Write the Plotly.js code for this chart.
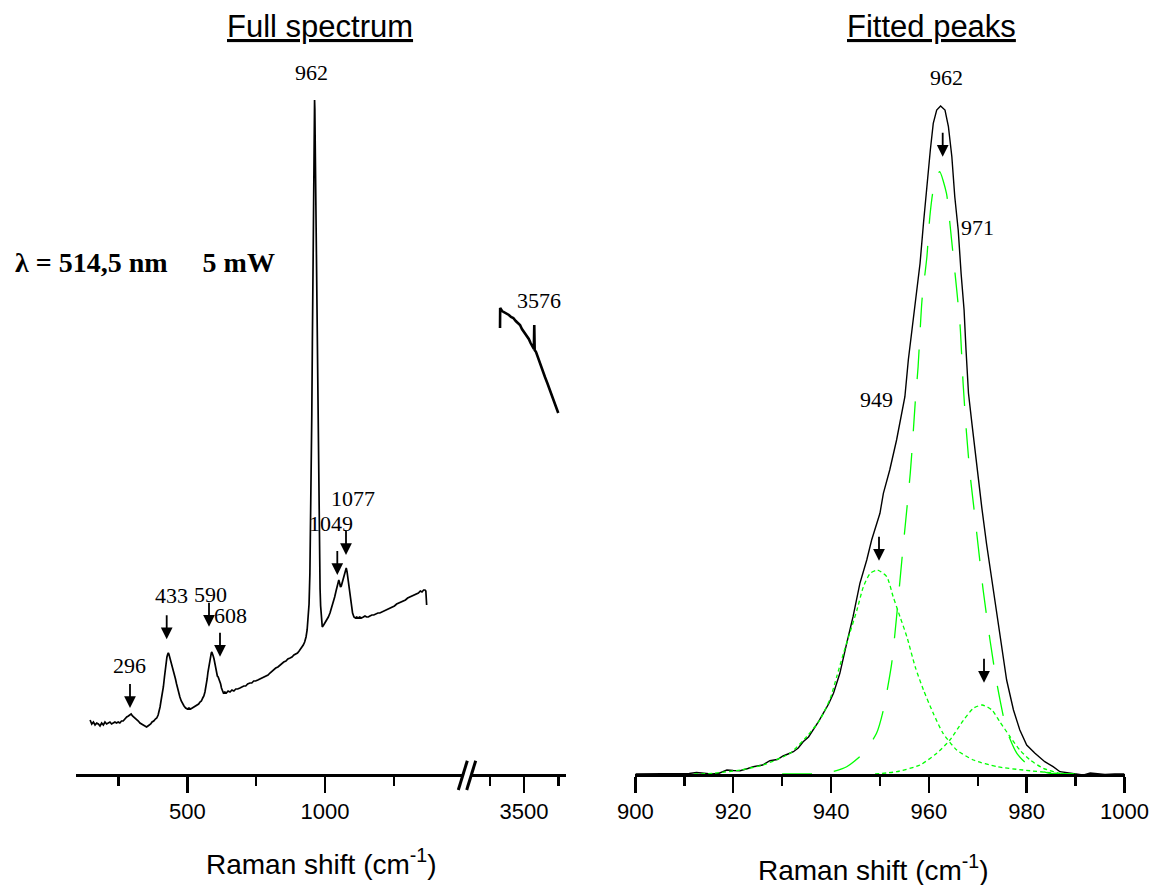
<!DOCTYPE html>
<html><head><meta charset="utf-8">
<script src="https://cdn.plot.ly/plotly-3.0.1.min.js"></script>
<style>html,body{margin:0;padding:0;background:#fff;}#chart{width:1157px;height:885px;}</style>
</head><body><div id="chart"></div>
<script>
// ---------- DATA ----------
// Full spectrum, low-wavenumber part: [Raman shift (cm-1), intensity (a.u.)]
const fullSpectrum = [[147,54],[153,50],[159,52],[165,49],[171,51],[177,50],[183,48],[189,51],[195,49],[201,52],[207,50],[213,51],[219,52],[225,50],[231,51],[237,52],[243,51],[249,52],[255,51],[261,53],[267,53],[273,55],[280,57],[286,58],[291,59],[296,60],[301,58],[306,57],[312,55],[317,54],[322,53],[328,51],[334,50],[340,49],[346,48],[352,47],[357,48],[362,49],[367,50],[372,52],[378,53],[384,55],[389,56],[394,59],[398,63],[401,67],[405,74],[409,80],[413,87],[417,97],[420,105],[423,112],[426,117],[429,120],[431,121],[433,120],[436,117],[439,114],[442,111],[445,108],[449,105],[453,100],[457,95],[461,90],[465,85],[469,81],[473,77],[478,73],[483,70],[488,68],[494,66],[500,65],[506,66],[512,65],[518,66],[524,67],[530,68],[536,69],[541,70],[546,72],[551,73],[556,76],[560,78],[564,82],[568,87],[572,95],[575,102],[578,108],[581,113],[584,117],[587,121],[589,122],[591,121],[594,118],[597,115],[600,110],[603,104],[606,100],[609,98],[612,97],[615,95],[618,92],[621,90],[624,86],[627,83],[631,81],[636,82],[642,81],[648,83],[655,82],[662,84],[669,83],[676,85],[683,85],[691,86],[698,87],[705,88],[712,88],[719,90],[727,91],[734,91],[741,93],[748,93],[756,94],[764,95],[771,96],[778,97],[786,98],[793,99],[800,101],[807,103],[814,104],[821,106],[829,107],[836,109],[843,111],[850,112],[858,113],[865,115],[873,116],[880,117],[887,119],[894,120],[900,121],[906,123],[912,125],[917,127],[921,129],[926,132],[931,137],[935,144],[939,155],[942,170],[945,200],[948,250],[950,300],[952,360],[954,430],[956,510],[958,580],[960,640],[961,664],[962,674],[963,665],[964,640],[966,585],[968,520],[970,455],[972,395],[974,340],[976,290],[978,245],[980,210],[982,185],[984,168],[986,157],[988,150],[990,147],[995,149],[1000,151],[1006,154],[1012,157],[1018,161],[1024,166],[1030,171],[1035,177],[1040,183],[1044,188],[1047,192],[1050,194],[1053,191],[1056,187],[1059,188],[1062,191],[1066,196],[1070,201],[1074,205],[1077,206],[1080,202],[1083,196],[1086,188],[1089,180],[1092,173],[1096,166],[1100,161],[1105,157],[1110,156],[1115,157],[1120,156],[1126,157],[1132,156],[1139,157],[1145,158],[1151,157],[1157,157],[1163,158],[1170,159],[1177,159],[1185,160],[1192,161],[1199,161],[1206,162],[1213,163],[1220,164],[1228,165],[1236,166],[1244,167],[1252,168],[1260,170],[1268,171],[1276,172],[1284,173],[1292,174],[1300,176],[1308,177],[1316,178],[1324,179],[1332,180],[1339,181],[1346,183],[1352,182],[1358,184],[1363,184],[1366,183],[1369,169]];

// Full spectrum, OH region after the axis break
const ohSpectrum = [[3325,446],[3326,466],[3340,463],[3355,462],[3374,460],[3390,459],[3405,457],[3422,456],[3440,453],[3455,451],[3471,449],[3485,445],[3500,442],[3520,439],[3535,435],[3548,431],[3556,429],[3566,427],[3572,425],[3575,449],[3578,424],[3588,422],[3600,417],[3617,411],[3635,404],[3653,397],[3670,391],[3690,384],[3708,377],[3726,371],[3740,365],[3750,361]];

// Fitted peaks panel: measured band
const fitShift = [900,903,906,909,911,912.5,914,915.5,917,918.7,920,921.4,923,924.1,926,927.5,929,930.2,931.2,932.3,933.3,934.3,935.4,936.4,937.4,938.4,939.5,940.5,941.8,943.2,944.5,945.9,947.3,948.3,950,950.7,952,953.4,954.4,955.1,955.8,956.5,957.2,958.2,958.9,959.6,960.3,960.9,961.6,962.4,963.3,964,964.7,965.3,966,966.6,967.2,967.6,968.1,968.8,969.8,970.8,971.8,973.2,974.5,975.9,977.3,978.6,980,981.7,983.7,985.4,986.8,988.8,990,991.6,993,994.5,996,998,1000];
const fitMeasured = [0,0,0.5,0,0.5,1.5,1,0,0.5,4,3.5,3.3,5.5,7.3,9,13.3,14.5,18,20,22.3,26,32.3,37,44,52,60.7,70,80.7,100.7,130.7,157.3,190.7,214,234,260.7,280.7,304,334,360.7,377.3,414,444,469,510.7,550.7,590.7,624,650.7,664,668,664,647.3,617.3,577.3,544,500,464,424,380.7,350.7,307.3,267.3,230,184,140.7,94,64,44,29,20.7,12.3,7.3,2.3,0.7,0,-1,1,0,-0.5,0,0];

// Fitted components
const p962Shift = [930,935,939.1,943.2,946.6,949.3,950.7,952.4,953.4,954.5,955.2,956.2,956.7,957.2,957.8,958.6,959.6,960.2,960.9,962.2,963.6,964.3,965,965.7,966.4,967,967.7,968.4,969.1,970.1,971.1,972.5,973.9,975.9,978,980.7,984.8,990];
const p962Int = [0,0.2,0.7,7.3,20.7,40.7,64,110.7,157.3,215,250,300.7,334,370.7,407.3,474,517.3,557.3,584,602.3,580.7,550.7,517.3,484,447.3,390.7,340.7,300.7,270.7,227.3,184,134,90.7,44,20.7,7.3,0.7,0];
const p949Shift = [912,915.9,921.4,926.1,931.6,935,937.7,939.8,941.2,942.5,943.9,945.3,946.6,948,949.5,951.4,952.7,954.1,955.5,957.2,958.9,960.9,962.9,965.7,969.1,973.9,979.3,986.1,990];
const p949Int = [0,0.7,4,9,20.7,37.3,54,75,98,120,142,164,187,200.7,204,197.3,177.3,157.3,137.3,107.3,84,60.7,40.7,24,14,7.3,4,0.7,0];
const p971Shift = [949,953.4,958.2,961.6,964.3,967.1,969.1,970.9,972.9,974.5,976.6,978.6,980.7,983.4,986.8,990];
const p971Int = [0,2.3,9,20.7,34,54,65.7,69,64,52.3,37.3,24,14,5.7,0.7,0];

// Tick labels
const leftTicks = [500, 1000];
const breakTicks = [3500];
const fitTicks = [900, 920, 940, 960, 980, 1000];

// ---------- LAYOUT HELPERS ----------
const W = 1157, H = 885, MT = 94, MB = 111, PH = H - MT - MB;
const px = x => x / W;
const py = y => (H - MB - y) / PH;

const black = '#000000', green = '#00ff00';
const sans = 'Liberation Sans, Arial, sans-serif';
const tickFont = {family: sans, size: 22, color: black};
const serif = 'Liberation Serif, Times New Roman, serif';

const traces = [
  {x: fullSpectrum.map(p => p[0]), y: fullSpectrum.map(p => p[1]), xaxis: 'x', yaxis: 'y',
   mode: 'lines', line: {color: black, width: 1.7}},
  {x: ohSpectrum.map(p => p[0]), y: ohSpectrum.map(p => p[1]), xaxis: 'x2', yaxis: 'y',
   mode: 'lines', line: {color: black, width: 2.6}},
  {x: fitShift, y: fitMeasured, xaxis: 'x3', yaxis: 'y',
   mode: 'lines', line: {color: black, width: 1.4}},
  {x: p962Shift, y: p962Int, xaxis: 'x3', yaxis: 'y',
   mode: 'lines', line: {color: green, width: 1.3, dash: '30px,22px', shape: 'spline', smoothing: 0.6}},
  {x: p949Shift, y: p949Int, xaxis: 'x3', yaxis: 'y',
   mode: 'lines', line: {color: green, width: 1.3, dash: '4px,3px', shape: 'spline', smoothing: 0.6}},
  {x: p971Shift, y: p971Int, xaxis: 'x3', yaxis: 'y',
   mode: 'lines', line: {color: green, width: 1.3, dash: '4px,3px', shape: 'spline', smoothing: 0.6}}
];

function xax(domain, range, extra) {
  return Object.assign({
    domain: domain, range: range, anchor: 'y', showline: true, linewidth: 3, linecolor: black,
    ticks: 'outside', ticklen: 16, tickwidth: 2.5, tickcolor: black, tickfont: tickFont,
    ticklabelstandoff: 0, showgrid: false, zeroline: false, fixedrange: true
  }, extra);
}

const labels = [
  {t: '962', x: 311, y: 72.5}, {t: '296', x: 129, y: 665.5}, {t: '433', x: 171, y: 595.5},
  {t: '590', x: 210, y: 594.5}, {t: '608', x: 230, y: 615.5}, {t: '1049', x: 331, y: 523},
  {t: '1077', x: 353, y: 498}, {t: '3576', x: 539, y: 300},
  {t: '962', x: 946, y: 77}, {t: '971', x: 977.5, y: 228}, {t: '949', x: 876, y: 400}
];
const arrows = [
  {x: 130, y: 708}, {x: 166.7, y: 639.3}, {x: 209, y: 626.7}, {x: 220, y: 656.7},
  {x: 337.3, y: 575}, {x: 346, y: 555},
  {x: 942.7, y: 156.7}, {x: 879, y: 560.7}, {x: 984, y: 682.7}
];

const annotations = [];
labels.forEach(l => annotations.push({
  xref: 'paper', yref: 'paper', x: px(l.x), y: py(l.y), text: l.t, showarrow: false,
  xanchor: 'center', yanchor: 'middle', font: {family: serif, size: 22, color: black}
}));
arrows.forEach(a => annotations.push({
  xref: 'paper', yref: 'paper', x: px(a.x), y: py(a.y), text: ' ', font: {size: 1}, borderpad: 0,
  showarrow: true, ax: 0, ay: -25, arrowhead: 2, arrowsize: 1.3, arrowwidth: 1.8, arrowcolor: black, standoff: 0
}));
annotations.push(
  {xref: 'paper', yref: 'paper', x: px(13), y: py(262), xanchor: 'left', yanchor: 'middle', showarrow: false,
   text: '<b>λ = 514,5 nm&nbsp;&nbsp;&nbsp;&nbsp;&nbsp;5 mW</b>', font: {family: serif, size: 28, color: black}},
  {xref: 'paper', yref: 'paper', x: px(320), y: py(27), xanchor: 'center', yanchor: 'middle', showarrow: false,
   text: '<u>Full spectrum</u>', font: {family: sans, size: 31, color: black}},
  {xref: 'paper', yref: 'paper', x: px(931), y: py(27), xanchor: 'center', yanchor: 'middle', showarrow: false,
   text: '<u>Fitted peaks</u>', font: {family: sans, size: 31, color: black}},
  {xref: 'paper', yref: 'paper', x: px(321), y: py(862), xanchor: 'center', yanchor: 'middle', showarrow: false,
   text: 'Raman shift (cm<sup>-1</sup>)', font: {family: sans, size: 28, color: black}},
  {xref: 'paper', yref: 'paper', x: px(873), y: py(868), xanchor: 'center', yanchor: 'middle', showarrow: false,
   text: 'Raman shift (cm<sup>-1</sup>)', font: {family: sans, size: 28, color: black}}
);

const shapes = [
  {type: 'line', xref: 'paper', yref: 'paper', x0: px(458.3), y0: py(790), x1: px(467.3), y1: py(760.7), line: {color: black, width: 3}},
  {type: 'line', xref: 'paper', yref: 'paper', x0: px(466.7), y0: py(790), x1: px(475.7), y1: py(760.7), line: {color: black, width: 3}}
];

const layout = {
  width: W, height: H, margin: {l: 0, r: 0, t: MT, b: MB, pad: 0},
  paper_bgcolor: '#ffffff', plot_bgcolor: 'rgba(0,0,0,0)', showlegend: false, hovermode: false,
  xaxis: xax([px(75.5), px(462)], [94, 1497.3], {tickmode: 'array', tickvals: leftTicks,
    minor: {tickmode: 'array', tickvals: [250, 750, 1250], ticks: 'outside', ticklen: 9, tickwidth: 2.5, tickcolor: black}}),
  xaxis2: xax([px(472), px(566)], [3120.4, 3806.6], {tickmode: 'array', tickvals: breakTicks,
    minor: {tickmode: 'array', tickvals: [3250, 3750], ticks: 'outside', ticklen: 9, tickwidth: 2.5, tickcolor: black}}),
  xaxis3: xax([px(635.4), px(1124.5)], [900, 1000], {tickmode: 'array', tickvals: fitTicks,
    minor: {dtick: 10, tick0: 900, ticks: 'outside', ticklen: 9, tickwidth: 2.5, tickcolor: black}}),
  yaxis: {domain: [0, 1], range: [0, 680], visible: false, fixedrange: true, anchor: 'x'},
  annotations: annotations, shapes: shapes
};

Plotly.newPlot('chart', traces, layout, {displayModeBar: false, staticPlot: true});
</script></body></html>
